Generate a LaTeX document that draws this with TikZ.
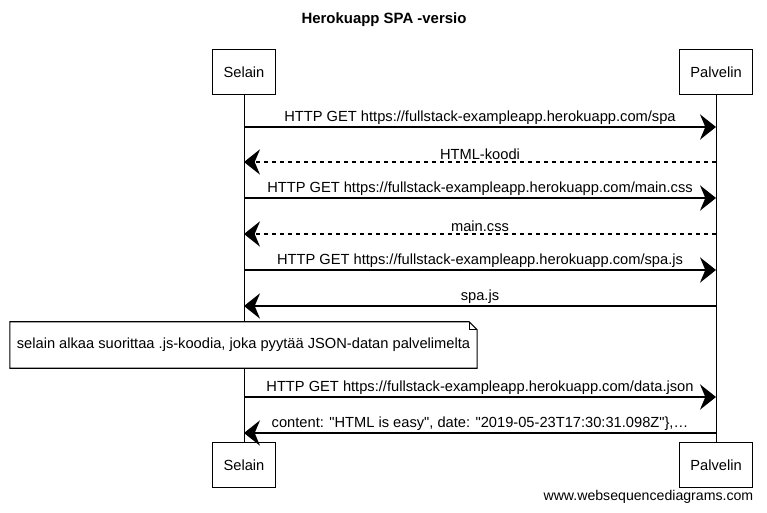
\documentclass[tikz,border=0pt]{standalone}
\usepackage{fontspec}
\setmainfont{Liberation Sans}
\usetikzlibrary{arrows.meta,positioning}

\begin{document}
\begin{tikzpicture}[x=0.75pt,y=-0.75pt,
    actor/.style={draw, thick, minimum height=34pt, minimum width=47pt, font=\fontsize{11}{13}\selectfont},
    msg/.style={line width=0.9pt, -{Stealth[length=12pt,width=19pt,inset=4pt]}},
    reply/.style={msg, dashed},
    lbl/.style={above, inner sep=1.5pt, font=\fontsize{11}{13}\selectfont}
]
\useasboundingbox (0,0) rectangle (767,513);
\node[font=\bfseries\fontsize{11.2}{13}\selectfont](title) at (384,20){Herokuapp SPA -versio};
% participants
\node[actor](selTop) at (244,72){Selain};
\node[actor, minimum width=55pt](palTop) at (716,72){Palvelin};
\node[actor](selBot) at (244,465){Selain};
\node[actor, minimum width=55pt](palBot) at (716,465){Palvelin};
\draw (selTop.south) -- (selBot.north);
\draw (palTop.south) -- (palBot.north);
% message ends
\foreach \i/\y in {1/127,2/162,3/198,4/234,5/270,6/306,7/397,8/433}{
    \coordinate (s\i) at (244,\y);
    \coordinate (p\i) at (716,\y);
}
\draw[msg] (s1) -- node[lbl]{HTTP GET https://fullstack-exampleapp.herokuapp.com/spa} (p1);
\draw[reply] (p2) -- node[lbl]{HTML-koodi} (s2);
\draw[msg] (s3) -- node[lbl]{HTTP GET https://fullstack-exampleapp.herokuapp.com/main.css} (p3);
\draw[reply] (p4) -- node[lbl]{main.css} (s4);
\draw[msg] (s5) -- node[lbl]{HTTP GET https://fullstack-exampleapp.herokuapp.com/spa.js} (p5);
\draw[msg] (p6) -- node[lbl]{spa.js} (s6);
% note
\node[minimum width=350pt, minimum height=34.5pt](note) at (243.5,345){};
\draw[thick, fill=white] (note.south west) -- (note.north west) -- ([xshift=-6pt]note.north east) -- ([yshift=-6pt]note.north east) -- (note.south east) -- cycle;
\draw ([xshift=-6pt]note.north east) -- ([xshift=-6pt,yshift=-6pt]note.north east) -- ([yshift=-6pt]note.north east);
\node[font=\fontsize{11}{13}\selectfont](notetext) at (note.center){selain alkaa suorittaa .js-koodia, joka pyytää JSON-datan palvelimelta};
\draw[msg] (s7) -- node[lbl]{HTTP GET https://fullstack-exampleapp.herokuapp.com/data.json} (p7);
\draw[msg] (p8) -- node[lbl]{content: \textquotedbl HTML is easy\textquotedbl, date: \textquotedbl 2019-05-23T17:30:31.098Z\textquotedbl\},\dots} (s8);
\node[anchor=east, font=\fontsize{10.6}{12}\selectfont](footer) at (758,497){www.websequencediagrams.com};
\end{tikzpicture}
\end{document}
